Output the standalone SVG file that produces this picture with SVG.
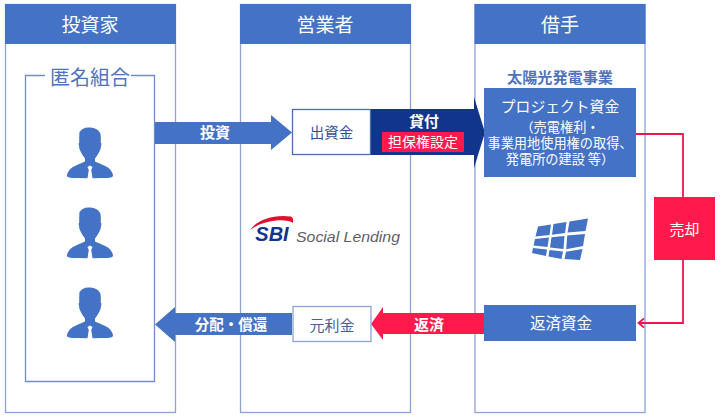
<svg xmlns="http://www.w3.org/2000/svg" xmlns:xlink="http://www.w3.org/1999/xlink" width="721" height="419" viewBox="0 0 721 419">
<style>
text{font-family:"Noto Sans CJK JP","Noto Sans",sans-serif;text-anchor:middle}
.col{fill:#fff;stroke:#8fa2d4;stroke-width:1.3}
.hd{fill:#4472c4}
.w{fill:#fff}
.b{fill:#4472c4}
.flow{fill:#4472c4}
.red{fill:#ff1a4b}
.navy{fill:#12358c}
.wire{fill:none;stroke:#e8194f;stroke-width:1.8}
</style>
<defs>
<g id="person" class="b">
<path d="M-2-.5C4-.5 9 1 10.500 6C11 10 10.800 13 10.800 15L11.500 15.500L10.500 21C9 25 7 28 5 30.500L5 33.500L13 37C19 39 23 44 23 47.500C23 49.500 20 50 13 50L2.500 50.200L1.200 42L2.500 39L0 37.500L-2.500 39L-1.200 42L-2.500 50.200L-13 50C-20 50-23 49.500-23 47.500C-23 44-19 39-13 37L-5 33.500L-5 30.500C-7 28-9 25-10.500 21L-11.500 15.500L-10.800 15C-10.800 11-10.800 7-10.500 4C-8 1-6-.5-2-.5Z"/>
</g>
</defs>
<rect width="721" height="419" fill="#fff"/>
<g id="investor">
<rect class="col" x="5.500" y="4.500" width="170" height="408"/>
<rect class="hd" x="5" y="4" width="171" height="40"/>
<text class="w" x="90" y="32" font-size="19">投資家</text>
<path d="M45 75.500H25.500V381.500H154.500V75.500H131" fill="none" stroke="#6f8cd0" stroke-width="1.300"/>
<text x="90" y="85" font-size="20" fill="#4f74bd">匿名組合</text>
<use xlink:href="#person" x="90" y="128"/>
<use xlink:href="#person" x="90" y="208"/>
<use xlink:href="#person" x="90" y="288"/>
</g>
<g id="operator">
<rect class="col" x="240.500" y="4.500" width="170" height="408"/>
<rect class="hd" x="240" y="4" width="171" height="40"/>
<text class="w" x="325" y="32" font-size="19">営業者</text>
</g>
<g id="borrower">
<rect class="col" x="475" y="4.500" width="170" height="408"/>
<rect class="hd" x="474.500" y="4" width="171" height="40"/>
<text class="w" x="560" y="32" font-size="19">借手</text>
<text x="560" y="83" font-size="15" font-weight="700" fill="#4f74bd" textLength="106" lengthAdjust="spacingAndGlyphs">太陽光発電事業</text>
</g>
<g id="connectors">
<polyline class="wire" points="636,134 683,134 683,197"/>
<polyline class="wire" points="683,260 683,323 640,323"/>
<path class="wire" d="M644 318.500L638.500 323L644 327.500"/>
<path class="flow" d="M155 122H271V115L292 132.500L271 150V144H155Z"/>
<path class="navy" d="M371 109H474V97L485 132.500L474 168V155H371Z"/>
<path class="red" d="M484 313H383V307L371 324L383 340V334H484Z"/>
<path class="flow" d="M292 313H175V307L155 324.500L175 342V335H292Z"/>
<text class="w" x="215" y="138" font-size="15" font-weight="700">投資</text>
<text class="w" x="424" y="127" font-size="15" font-weight="700">貸付</text>
<text class="w" x="429" y="330" font-size="15" font-weight="700">返済</text>
<text class="w" x="231" y="330" font-size="14.500" font-weight="700">分配・償還</text>
</g>
<g id="fund-box">
<rect x="292.500" y="109.500" width="78" height="45" fill="#fff" stroke="#4a6db5" stroke-width="1.300"/>
<text x="331.500" y="138" font-size="14.500" fill="#2f4f96">出資金</text>
</g>
<g id="collateral">
<rect class="red" x="382" y="132" width="82" height="20"/>
<text class="w" x="423" y="147" font-size="14">担保権設定</text>
</g>
<g id="project">
<rect class="b" x="484" y="88" width="152" height="89"/>
<text class="w" x="560" y="112" font-size="14.800">プロジェクト資金</text>
<text class="w" x="560" y="132" font-size="13.200">（売電権利・</text>
<text class="w" x="560" y="148" font-size="13.200">事業用地使用権の取得、</text>
<text class="w" x="560" y="164" font-size="13.200">発電所の建設 等）</text>
</g>
<g id="panel" class="b">
<path d="M538 226.500L551 224.500L549.500 235L535.500 236.500ZM553.500 224L566.500 222L565 233L552 234.800ZM569.500 221.500L588 218.500L585.500 231L567.500 232.500Z"/>
<path d="M535 239L549 237.500L547.500 247L533.500 245.500ZM551.500 237.300L564.500 236L563.500 249L550 247.500ZM567.200 235.500L585 234L583 246L566.200 249.300Z"/>
<path d="M533 248L547 249.500L546 256L532 253ZM549.500 250L563 251.500L561.500 259L548.500 256.500ZM566 251.800L582.500 249L580 260L564.500 259Z"/>
</g>
<g id="logo">
<path d="M250 230C256 221 272 214 291 216.500C293 217.500 293.500 220 293 223C287 218.500 265 219 250 230Z" fill="#e0102f"/>
<text x="272" y="241" font-size="20" font-weight="700" font-style="italic" fill="#12358c" style="font-family:'Liberation Sans',sans-serif">SBI</text>
<text x="348" y="242" font-size="15.500" font-style="italic" fill="#5f6066" textLength="104" lengthAdjust="spacingAndGlyphs" style="font-family:'Liberation Sans',sans-serif">Social Lending</text>
</g>
<g id="sell">
<rect class="red" x="654" y="197" width="61" height="63"/>
<text class="w" x="684.500" y="235" font-size="15">売却</text>
</g>
<g id="repay-fund">
<rect class="b" x="484" y="305" width="152" height="36"/>
<text class="w" x="561" y="329" font-size="15.500">返済資金</text>
</g>
<g id="interest">
<rect x="293" y="306.500" width="78" height="35" fill="#fff" stroke="#8fa2d4" stroke-width="1.300"/>
<text x="332" y="331" font-size="15" fill="#4a5f96">元利金</text>
</g>
</svg>
